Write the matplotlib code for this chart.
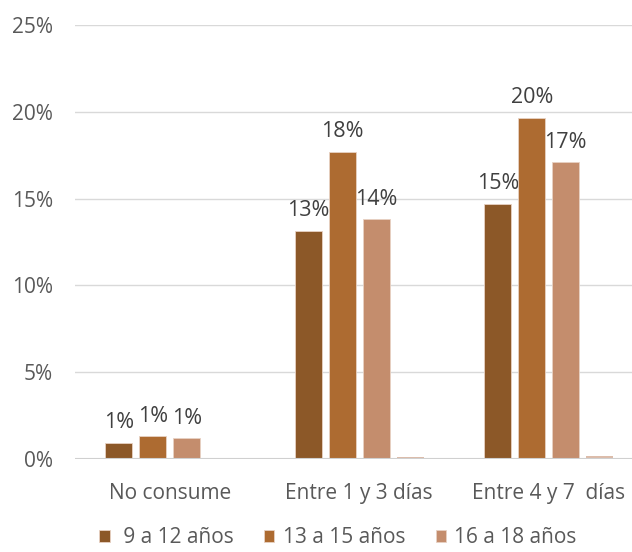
import matplotlib.pyplot as plt
import numpy as np

plt.rcParams['font.family'] = ['Open Sans', 'DejaVu Sans']

categorias = ["No consume", "Entre 1 y 3 días", "Entre 4 y 7  días"]
series = [" 9 a 12 años", "13 a 15 años", "16 a 18 años"]
valores = [
    [0.92, 13.15, 14.7],
    [1.32, 17.7, 19.65],
    [1.2, 13.8, 17.1],
]
etiquetas = [
    ["1%", "13%", "15%"],
    ["1%", "18%", "20%"],
    ["1%", "14%", "17%"],
]
# cuarta serie sin leyenda (casi cero)
otros = [0.0, 0.1, 0.15]

colores = ["#8c5828", "#ad6b31", "#c48d6d"]
color_otros = "#dcbcaa"

fig = plt.figure(figsize=(6.32, 5.52), dpi=100)
ax = fig.add_axes([75/632, 93/552, 568.5/632, 434/552])

x = np.arange(len(categorias))
paso = 34/189.5
ancho = 27/189.5

for i, (nombre, vals) in enumerate(zip(series, valores)):
    pos = x + (i - 1.5) * paso
    ax.bar(pos, vals, width=ancho, color=colores[i], label=nombre,
           edgecolor="#e8d2c4", linewidth=0.6, zorder=3)
    for p, v, t in zip(pos, vals, etiquetas[i]):
        ax.text(p, v + 0.55, t, ha="center", va="bottom", fontsize=15.5,
                color="#404040")

ax.bar(x + 1.5 * paso, otros, width=ancho, color=color_otros, zorder=3)

ax.set_xlim(-0.5, 2.5)
ax.set_ylim(0, 25)
ax.set_yticks(np.arange(0, 26, 5))
ax.set_yticklabels([f"{v}%" for v in range(0, 26, 5)])
ax.set_xticks(x)
ax.set_xticklabels(categorias)
ax.tick_params(axis="both", length=0, labelsize=15, colors="#595959")
ax.tick_params(axis="y", pad=16)
ax.tick_params(axis="x", pad=17)

ax.grid(axis="y", color="#d9d9d9", linewidth=1, zorder=0)
ax.axhline(0, color="#d0d0d0", linewidth=1.5, zorder=4)
for s in ax.spines.values():
    s.set_visible(False)

ax.legend(loc="upper center", bbox_to_anchor=((338 - 75) / 568.5, -0.124),
          ncol=3, frameon=False, fontsize=15, handlelength=0.5,
          handleheight=0.5, columnspacing=1.45, handletextpad=0.4,
          labelcolor="#595959", borderpad=0.2)

fig.savefig("out.png", dpi=100)
